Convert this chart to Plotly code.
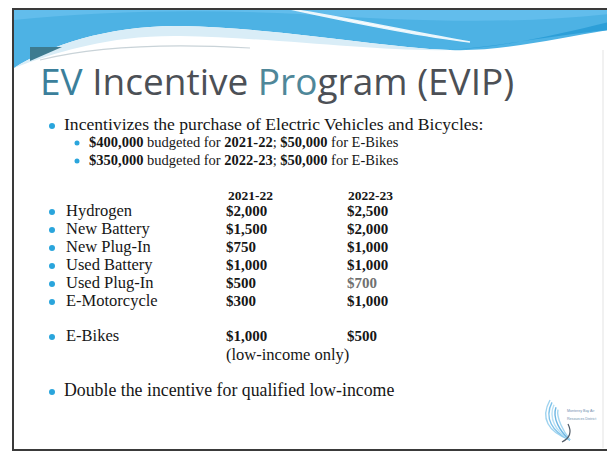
import plotly.graph_objects as go

# ---------------- data ----------------
title_text = "EV Incentive Program (EVIP)"
intro_text = "Incentivizes the purchase of Electric Vehicles and Bicycles:"
budget_years = ["2021-22", "2022-23"]
budget_total = [400000, 350000]
budget_ebikes = [50000, 50000]

fiscal_years = ["2021-22", "2022-23"]
categories = ["Hydrogen", "New Battery", "New Plug-In", "Used Battery",
              "Used Plug-In", "E-Motorcycle", "E-Bikes"]
incentive_2021_22 = [2000, 1500, 750, 1000, 500, 300, 1000]
incentive_2022_23 = [2500, 2000, 1000, 1000, 700, 1000, 500]
ebike_note = "(low-income only)"
closing_text = "Double the incentive for qualified low-income"

# ---------------- layout helpers ----------------
W, H = 615, 453
OFF = 8  # page body margin
row_y = [212, 230, 248, 266, 284, 302, 337]
col_label_x, col1_x, col2_x = 66, 226, 347
bullet_x = 52
SERIF = "Liberation Serif"
TXT = "#161616"
BULLET = "#2aa5dc"

def money(v):
    return "${:,}".format(v)

fig = go.Figure()

shapes = []
shapes.append(dict(type="path", layer="below",
                   path="M14,8 L609,8 L609,30 C560,38 500,52 450,50 C380,47 280,28 180,26 C110,25 50,45 14,68 Z",
                   fillcolor="#4db2e4", line=dict(width=0)))
shapes.append(dict(type="path", layer="below",
                   path="M14,8 L609,8 L609,14 C520,24 420,22 300,14 C200,9 100,11 14,20 Z",
                   fillcolor="#62bdec", line=dict(width=0)))
shapes.append(dict(type="path", layer="below",
                   path="M290,9 C350,18 420,34 470,42 C420,36 350,22 290,9 Z",
                   fillcolor="#ffffff", line=dict(color="#eaf6fc", width=1.5)))
shapes.append(dict(type="path", layer="below",
                   path="M609,22 C560,34 500,48 450,50 C500,46 560,34 609,30 Z",
                   fillcolor="#2d9fd8", line=dict(width=0)))
shapes.append(dict(type="path", layer="below",
                   path="M14,68 C50,45 110,25 180,26 C280,28 380,47 450,50 C380,52 280,38 180,36 C110,35 60,52 30,62 Z",
                   fillcolor="#d9edf7", line=dict(width=0)))
shapes.append(dict(type="path", path="M30,47 L62,47 L30,61 Z",
                   fillcolor="#3d7b90", line=dict(width=0)))
shapes.append(dict(type="path", path="M40,60 C100,45 180,44 250,48",
                   line=dict(color="#c9d3d8", width=1.2)))
shapes.append(dict(type="line", x0=603, x1=603, y0=50, y1=448,
                   line=dict(color="#e3e3e3", width=1)))
shapes.append(dict(type="rect", x0=13, y0=9, x1=609, y1=450,
                   line=dict(color="#3a3a3a", width=2)))
for dx, c in [(0, "#9fd3ef"), (4, "#7fc3ea"), (8, "#b8e0f4"),
              (12, "#6fb7e3"), (16, "#a5d7f1")]:
    shapes.append(dict(type="path",
                       path=f"M{550+dx*0.5},{400+dx*0.6} C{540+dx},418 {548+dx},432 570,440",
                       line=dict(color=c, width=1.4)))
shapes.append(dict(type="path", path="M568,424 C572,432 570,438 562,442",
                   line=dict(color="#505a66", width=1.2)))

bullet_rows = [126] + row_y + [392]
fig.add_trace(go.Scatter(x=[bullet_x] * len(bullet_rows), y=bullet_rows, mode="markers",
                         marker=dict(color=BULLET, size=6, line=dict(width=0)),
                         hoverinfo="skip", showlegend=False))
fig.add_trace(go.Scatter(x=[77, 77], y=[143, 161], mode="markers",
                         marker=dict(color=BULLET, size=5, line=dict(width=0)),
                         hoverinfo="skip", showlegend=False))

fig.add_trace(go.Scatter(x=[64], y=[126], mode="text", text=[intro_text],
                         textposition="middle right",
                         textfont=dict(family=SERIF, size=17.6, color=TXT),
                         hoverinfo="skip", showlegend=False))
budget_lines = [f"<b>{money(t)}</b> budgeted for <b>{y}</b>; <b>{money(e)}</b> for E-Bikes"
                for y, t, e in zip(budget_years, budget_total, budget_ebikes)]
fig.add_trace(go.Scatter(x=[89, 89], y=[143, 161], mode="text", text=budget_lines,
                         textposition="middle right",
                         textfont=dict(family=SERIF, size=14.5, color=TXT),
                         hoverinfo="skip", showlegend=False))
fig.add_trace(go.Scatter(x=[col1_x + 2, col2_x + 1], y=[197, 197], mode="text",
                         text=[f"<b>{f}</b>" for f in fiscal_years],
                         textposition="middle right",
                         textfont=dict(family=SERIF, size=13.5, color=TXT),
                         hoverinfo="skip", showlegend=False))
fig.add_trace(go.Scatter(x=[col_label_x] * len(categories), y=row_y, mode="text",
                         text=categories, textposition="middle right",
                         textfont=dict(family=SERIF, size=16.5, color=TXT),
                         hoverinfo="skip", showlegend=False))
fig.add_trace(go.Scatter(x=[col1_x] * len(categories), y=row_y, mode="text",
                         text=[f"<b>{money(v)}</b>" for v in incentive_2021_22],
                         textposition="middle right",
                         textfont=dict(family=SERIF, size=15, color=TXT),
                         hoverinfo="skip", showlegend=False))
col2_colors = [TXT if v != 700 else "#707070" for v in incentive_2022_23]
fig.add_trace(go.Scatter(x=[col2_x] * len(categories), y=row_y, mode="text",
                         text=[f"<b>{money(v)}</b>" for v in incentive_2022_23],
                         textposition="middle right",
                         textfont=dict(family=SERIF, size=15, color=col2_colors),
                         hoverinfo="skip", showlegend=False))
fig.add_trace(go.Scatter(x=[col1_x], y=[356], mode="text", text=[ebike_note],
                         textposition="middle right",
                         textfont=dict(family=SERIF, size=16.5, color=TXT),
                         hoverinfo="skip", showlegend=False))
fig.add_trace(go.Scatter(x=[64], y=[392], mode="text", text=[closing_text],
                         textposition="middle right",
                         textfont=dict(family=SERIF, size=17.8, color=TXT),
                         hoverinfo="skip", showlegend=False))
fig.add_trace(go.Scatter(x=[567, 567], y=[411, 419], mode="text",
                         text=["Monterey Bay Air", "Resources District"],
                         textposition="middle right",
                         textfont=dict(family="Liberation Sans", size=3.6, color="#6f8fb0"),
                         hoverinfo="skip", showlegend=False))

title_html = ("<span style='color:#3b7f9b'>EV</span> Incentive "
              "<span style='color:#4f8799'>Pro</span>gram (EVIP)")
annotations = [dict(x=38, y=80, xref="x", yref="y", text=title_html, showarrow=False,
                    xanchor="left", yanchor="middle",
                    font=dict(family="Open Sans", size=37, color="#4c5056"))]

fig.update_layout(
    width=W - OFF, height=H - OFF, margin=dict(l=0, r=0, t=0, b=0),
    paper_bgcolor="white", plot_bgcolor="white",
    xaxis=dict(range=[OFF, W], visible=False, fixedrange=True),
    yaxis=dict(range=[H, OFF], visible=False, fixedrange=True),
    shapes=shapes, annotations=annotations, showlegend=False,
)
fig.write_html("out.html")
